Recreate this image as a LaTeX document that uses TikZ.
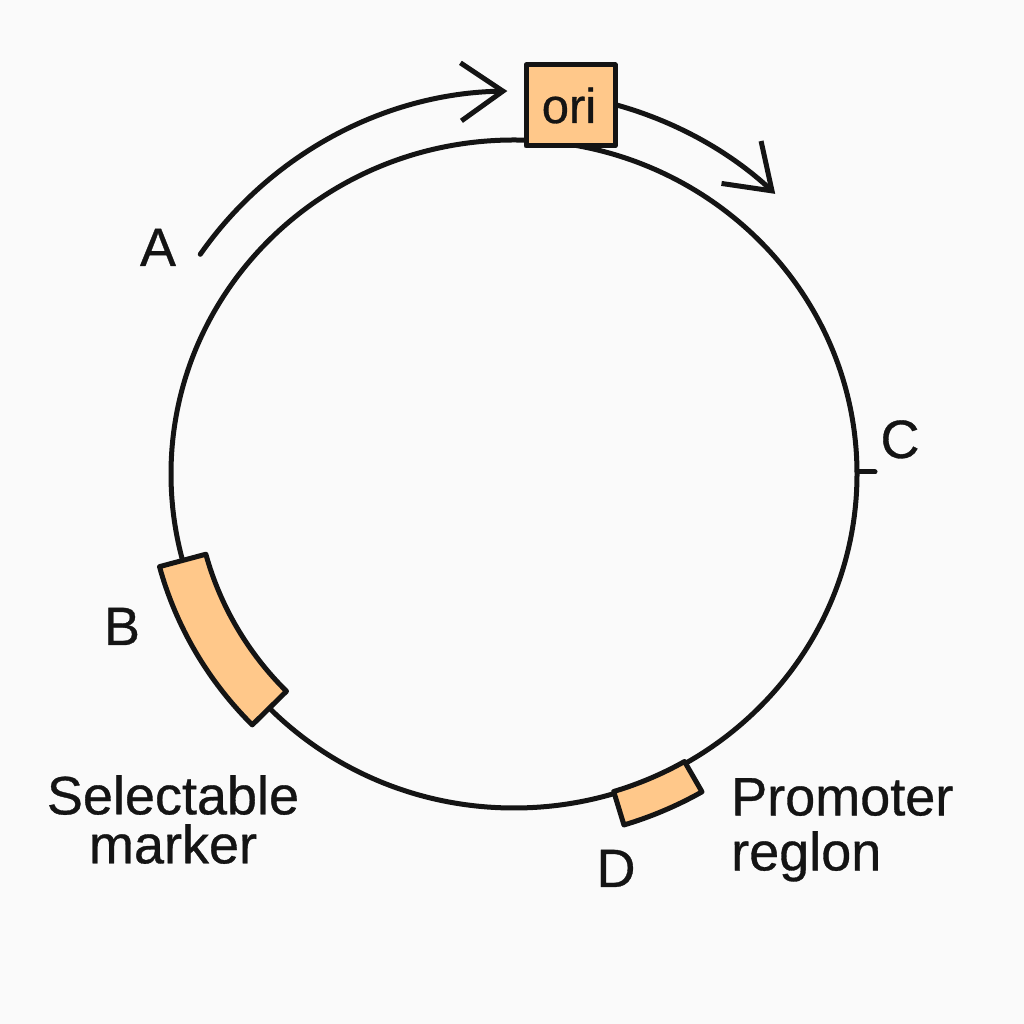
\documentclass[tikz,border=0pt]{standalone}
\usepackage{fontspec}
\setmainfont[FakeBold=0.6]{Liberation Sans}
\usetikzlibrary{arrows.meta}
\definecolor{boxfill}{RGB}{255,200,138}
\definecolor{bgcol}{RGB}{250,250,250}
\definecolor{ink}{RGB}{20,20,20}
\tikzset{
  ink line/.style={draw=ink, line width=5pt, line cap=round, line join=round},
  feature/.style={draw=ink, fill=boxfill, line width=5pt, line join=round},
  flow arrow/.style={ink line, -{Straight Barb[length=42pt,width=58pt]}},
  lbl/.style={inner sep=0pt, text=ink, font=\fontsize{54}{46}\selectfont},
}
\begin{document}
\begin{tikzpicture}[x=1pt,y=1pt]
\fill[bgcol] (0,0) rectangle (1024,1024);
\useasboundingbox (0,0) rectangle (1024,1024);
\coordinate (O) at (514,550);
% plasmid backbone
\draw[ink line] (O) ellipse [x radius=343, y radius=334];
% C tick
\coordinate (Ctick) at (857,552);
\coordinate (Ctickend) at (875,552);
\draw[ink line] (Ctick) -- (Ctickend);
% selectable marker (B) block
\begin{scope}[shift={(O)}]
\draw[feature] (195:367 and 358) arc[start angle=195, end angle=224.5, x radius=367, y radius=358]
  -- (224.5:319 and 310) arc[start angle=224.5, end angle=195, x radius=319, y radius=310] -- cycle;
% promoter (D) block
\draw[feature] (-73:341 and 332) arc[start angle=-73, end angle=-60, x radius=341, y radius=332]
  -- (-60:376 and 367) arc[start angle=-60, end angle=-73, x radius=376, y radius=367] -- cycle;
% direction arrows
\draw[flow arrow] (145:383) arc[start angle=145, end angle=91, radius=383];
\draw[flow arrow] (75:383) arc[start angle=75, end angle=47, radius=383];
\end{scope}
% ori box
\node[feature, minimum width=89pt, minimum height=81pt, inner sep=0pt] (ori) at (570.5,918.5) {};
\node[lbl, font=\fontsize{49}{49}\selectfont, anchor=base] (oritext) at (569,901) {ori};
% labels
\node[lbl, anchor=base] (A) at (158,758) {A};
\node[lbl, anchor=base] (B) at (122,379) {B};
\node[lbl, anchor=base] (C) at (900,566) {C};
\node[lbl, anchor=base] (D) at (616,137) {D};
\node[lbl, align=center, anchor=north] (sel) at (173,249) {Selectable\\[3pt]marker};
\node[lbl, align=left, anchor=north west] (pro) at (731,246) {Promoter\\[9pt]reglon};
\end{tikzpicture}
\end{document}
